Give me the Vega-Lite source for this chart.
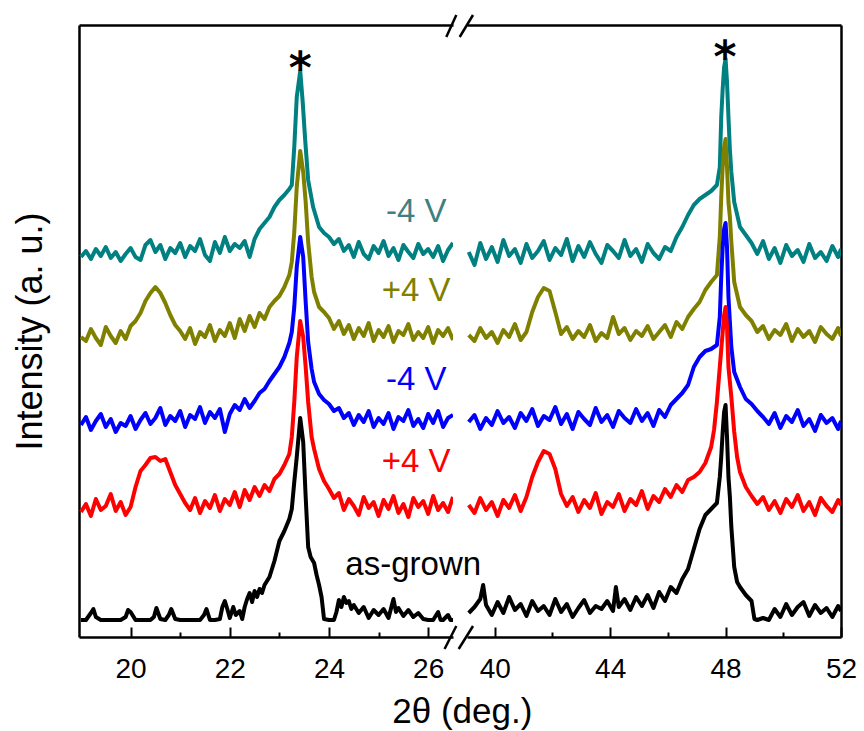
{
"$schema": "https://vega.github.io/schema/vega-lite/v6.json",
"padding": {"left": 12, "top": 13, "right": 15, "bottom": 0},
"config": {
  "view": {"stroke": null},
  "font": "Liberation Sans",
  "axis": {"domainColor": "black", "domainWidth": 2.5, "tickColor": "black", "tickWidth": 2, "labelFont": "Liberation Sans", "labelFontSize": 28, "labelColor": "black", "titleFont": "Liberation Sans", "titleFontSize": 36, "titleFontWeight": "normal", "titleColor": "black", "grid": false},
  "concat": {"spacing": 14}
},
"title": {"text": "2θ (deg.)", "orient": "bottom", "anchor": "middle", "frame": "bounds", "dx": 28, "fontSize": 35, "fontWeight": "normal", "font": "Liberation Sans", "color": "black", "offset": 7},
"bounds": "flush",
"spacing": 14,
"data": {"values": [
{"s":"1","x":19,"y":380},{"s":"1","x":19.1,"y":386},{"s":"1","x":19.2,"y":378},{"s":"1","x":19.3,"y":388},{"s":"1","x":19.4,"y":381},{"s":"1","x":19.5,"y":390},{"s":"1","x":19.6,"y":379},{"s":"1","x":19.7,"y":385},{"s":"1","x":19.8,"y":376},{"s":"1","x":19.9,"y":383},{"s":"1","x":20,"y":389},{"s":"1","x":20.1,"y":380},{"s":"1","x":20.2,"y":377},{"s":"1","x":20.3,"y":392},{"s":"1","x":20.4,"y":397},{"s":"1","x":20.5,"y":385},{"s":"1","x":20.6,"y":392},{"s":"1","x":20.7,"y":378},{"s":"1","x":20.8,"y":389},{"s":"1","x":20.9,"y":384},{"s":"1","x":21,"y":394},{"s":"1","x":21.1,"y":380},{"s":"1","x":21.2,"y":391},{"s":"1","x":21.3,"y":386},{"s":"1","x":21.4,"y":398},{"s":"1","x":21.5,"y":382},{"s":"1","x":21.6,"y":376},{"s":"1","x":21.7,"y":395},{"s":"1","x":21.8,"y":384},{"s":"1","x":21.9,"y":400},{"s":"1","x":22,"y":386},{"s":"1","x":22.1,"y":393},{"s":"1","x":22.2,"y":389},{"s":"1","x":22.3,"y":396},{"s":"1","x":22.4,"y":380},{"s":"1","x":22.5,"y":398},{"s":"1","x":22.6,"y":408},{"s":"1","x":22.7,"y":414},{"s":"1","x":22.8,"y":420},{"s":"1","x":22.9,"y":430},{"s":"1","x":23,"y":437},{"s":"1","x":23.1,"y":442},{"s":"1","x":23.2,"y":448},{"s":"1","x":23.25,"y":452},{"s":"1","x":23.3,"y":490},{"s":"1","x":23.35,"y":540},{"s":"1","x":23.42,"y":566},{"s":"1","x":23.47,"y":535},{"s":"1","x":23.52,"y":497},{"s":"1","x":23.58,"y":457},{"s":"1","x":23.68,"y":430},{"s":"1","x":23.8,"y":410},{"s":"1","x":23.9,"y":404},{"s":"1","x":24,"y":400},{"s":"1","x":24.1,"y":393},{"s":"1","x":24.2,"y":398},{"s":"1","x":24.3,"y":386},{"s":"1","x":24.4,"y":392},{"s":"1","x":24.5,"y":380},{"s":"1","x":24.6,"y":395},{"s":"1","x":24.7,"y":383},{"s":"1","x":24.8,"y":378},{"s":"1","x":24.9,"y":391},{"s":"1","x":25,"y":384},{"s":"1","x":25.1,"y":396},{"s":"1","x":25.2,"y":381},{"s":"1","x":25.3,"y":389},{"s":"1","x":25.4,"y":377},{"s":"1","x":25.5,"y":392},{"s":"1","x":25.6,"y":385},{"s":"1","x":25.7,"y":379},{"s":"1","x":25.8,"y":393},{"s":"1","x":25.9,"y":383},{"s":"1","x":26,"y":388},{"s":"1","x":26.1,"y":380},{"s":"1","x":26.2,"y":391},{"s":"1","x":26.3,"y":376},{"s":"1","x":26.4,"y":387},{"s":"1","x":26.5,"y":394},
{"s":"1","x":39.1,"y":385},{"s":"1","x":39.3,"y":372},{"s":"1","x":39.5,"y":394},{"s":"1","x":39.7,"y":378},{"s":"1","x":39.9,"y":390},{"s":"1","x":40.1,"y":375},{"s":"1","x":40.3,"y":397},{"s":"1","x":40.5,"y":381},{"s":"1","x":40.7,"y":388},{"s":"1","x":40.9,"y":374},{"s":"1","x":41.1,"y":393},{"s":"1","x":41.3,"y":379},{"s":"1","x":41.5,"y":386},{"s":"1","x":41.7,"y":396},{"s":"1","x":41.9,"y":377},{"s":"1","x":42.1,"y":389},{"s":"1","x":42.3,"y":382},{"s":"1","x":42.5,"y":398},{"s":"1","x":42.7,"y":376},{"s":"1","x":42.9,"y":391},{"s":"1","x":43.1,"y":380},{"s":"1","x":43.3,"y":395},{"s":"1","x":43.5,"y":383},{"s":"1","x":43.7,"y":374},{"s":"1","x":43.9,"y":392},{"s":"1","x":44.1,"y":386},{"s":"1","x":44.3,"y":379},{"s":"1","x":44.5,"y":397},{"s":"1","x":44.7,"y":381},{"s":"1","x":44.9,"y":388},{"s":"1","x":45.1,"y":375},{"s":"1","x":45.3,"y":393},{"s":"1","x":45.5,"y":384},{"s":"1","x":45.7,"y":378},{"s":"1","x":45.9,"y":390},{"s":"1","x":46.1,"y":386},{"s":"1","x":46.3,"y":400},{"s":"1","x":46.5,"y":410},{"s":"1","x":46.7,"y":422},{"s":"1","x":46.9,"y":432},{"s":"1","x":47.1,"y":438},{"s":"1","x":47.3,"y":442},{"s":"1","x":47.5,"y":446},{"s":"1","x":47.7,"y":452},{"s":"1","x":47.8,"y":470},{"s":"1","x":47.85,"y":520},{"s":"1","x":47.9,"y":548},{"s":"1","x":47.95,"y":570},{"s":"1","x":48,"y":578},{"s":"1","x":48.05,"y":555},{"s":"1","x":48.1,"y":520},{"s":"1","x":48.15,"y":487},{"s":"1","x":48.2,"y":465},{"s":"1","x":48.3,"y":435},{"s":"1","x":48.5,"y":410},{"s":"1","x":48.7,"y":402},{"s":"1","x":48.9,"y":394},{"s":"1","x":49.1,"y":383},{"s":"1","x":49.3,"y":396},{"s":"1","x":49.5,"y":378},{"s":"1","x":49.7,"y":389},{"s":"1","x":49.9,"y":374},{"s":"1","x":50.1,"y":392},{"s":"1","x":50.3,"y":381},{"s":"1","x":50.5,"y":387},{"s":"1","x":50.7,"y":375},{"s":"1","x":50.9,"y":393},{"s":"1","x":51.1,"y":379},{"s":"1","x":51.3,"y":385},{"s":"1","x":51.5,"y":376},{"s":"1","x":51.7,"y":391},{"s":"1","x":51.9,"y":380},{"s":"1","x":52,"y":388},
{"s":"2","x":19,"y":300},{"s":"2","x":19.1,"y":296},{"s":"2","x":19.2,"y":308},{"s":"2","x":19.3,"y":299},{"s":"2","x":19.4,"y":292},{"s":"2","x":19.5,"y":310},{"s":"2","x":19.6,"y":301},{"s":"2","x":19.7,"y":294},{"s":"2","x":19.8,"y":306},{"s":"2","x":19.9,"y":298},{"s":"2","x":20,"y":311},{"s":"2","x":20.1,"y":316},{"s":"2","x":20.2,"y":324},{"s":"2","x":20.3,"y":336},{"s":"2","x":20.4,"y":344},{"s":"2","x":20.5,"y":350},{"s":"2","x":20.6,"y":344},{"s":"2","x":20.7,"y":334},{"s":"2","x":20.8,"y":322},{"s":"2","x":20.9,"y":312},{"s":"2","x":21,"y":306},{"s":"2","x":21.1,"y":298},{"s":"2","x":21.2,"y":309},{"s":"2","x":21.3,"y":293},{"s":"2","x":21.4,"y":305},{"s":"2","x":21.5,"y":300},{"s":"2","x":21.6,"y":312},{"s":"2","x":21.7,"y":296},{"s":"2","x":21.8,"y":307},{"s":"2","x":21.9,"y":301},{"s":"2","x":22,"y":314},{"s":"2","x":22.1,"y":299},{"s":"2","x":22.2,"y":318},{"s":"2","x":22.3,"y":306},{"s":"2","x":22.4,"y":321},{"s":"2","x":22.5,"y":310},{"s":"2","x":22.6,"y":324},{"s":"2","x":22.7,"y":318},{"s":"2","x":22.8,"y":330},{"s":"2","x":22.9,"y":336},{"s":"2","x":23,"y":341},{"s":"2","x":23.1,"y":350},{"s":"2","x":23.2,"y":362},{"s":"2","x":23.25,"y":375},{"s":"2","x":23.3,"y":405},{"s":"2","x":23.35,"y":450},{"s":"2","x":23.42,"y":486},{"s":"2","x":23.48,"y":465},{"s":"2","x":23.53,"y":435},{"s":"2","x":23.58,"y":395},{"s":"2","x":23.65,"y":360},{"s":"2","x":23.7,"y":345},{"s":"2","x":23.8,"y":330},{"s":"2","x":23.9,"y":325},{"s":"2","x":24,"y":319},{"s":"2","x":24.1,"y":308},{"s":"2","x":24.2,"y":316},{"s":"2","x":24.3,"y":303},{"s":"2","x":24.4,"y":312},{"s":"2","x":24.5,"y":298},{"s":"2","x":24.6,"y":309},{"s":"2","x":24.7,"y":301},{"s":"2","x":24.8,"y":314},{"s":"2","x":24.9,"y":296},{"s":"2","x":25,"y":307},{"s":"2","x":25.1,"y":300},{"s":"2","x":25.2,"y":311},{"s":"2","x":25.3,"y":295},{"s":"2","x":25.4,"y":306},{"s":"2","x":25.5,"y":302},{"s":"2","x":25.6,"y":313},{"s":"2","x":25.7,"y":297},{"s":"2","x":25.8,"y":305},{"s":"2","x":25.9,"y":299},{"s":"2","x":26,"y":310},{"s":"2","x":26.1,"y":294},{"s":"2","x":26.2,"y":307},{"s":"2","x":26.3,"y":301},{"s":"2","x":26.4,"y":309},{"s":"2","x":26.5,"y":297},
{"s":"2","x":39.1,"y":302},{"s":"2","x":39.3,"y":296},{"s":"2","x":39.5,"y":309},{"s":"2","x":39.7,"y":299},{"s":"2","x":39.9,"y":305},{"s":"2","x":40.1,"y":294},{"s":"2","x":40.3,"y":307},{"s":"2","x":40.5,"y":300},{"s":"2","x":40.7,"y":313},{"s":"2","x":40.9,"y":297},{"s":"2","x":41.1,"y":305},{"s":"2","x":41.3,"y":325},{"s":"2","x":41.5,"y":340},{"s":"2","x":41.7,"y":349},{"s":"2","x":41.9,"y":346},{"s":"2","x":42.1,"y":325},{"s":"2","x":42.3,"y":303},{"s":"2","x":42.5,"y":310},{"s":"2","x":42.7,"y":298},{"s":"2","x":42.9,"y":306},{"s":"2","x":43.1,"y":300},{"s":"2","x":43.3,"y":312},{"s":"2","x":43.5,"y":296},{"s":"2","x":43.7,"y":304},{"s":"2","x":43.9,"y":299},{"s":"2","x":44.1,"y":320},{"s":"2","x":44.3,"y":303},{"s":"2","x":44.5,"y":309},{"s":"2","x":44.7,"y":297},{"s":"2","x":44.9,"y":306},{"s":"2","x":45.1,"y":301},{"s":"2","x":45.3,"y":311},{"s":"2","x":45.5,"y":298},{"s":"2","x":45.7,"y":305},{"s":"2","x":45.9,"y":312},{"s":"2","x":46.1,"y":300},{"s":"2","x":46.3,"y":315},{"s":"2","x":46.5,"y":308},{"s":"2","x":46.7,"y":320},{"s":"2","x":46.9,"y":328},{"s":"2","x":47.1,"y":335},{"s":"2","x":47.3,"y":347},{"s":"2","x":47.5,"y":355},{"s":"2","x":47.7,"y":362},{"s":"2","x":47.8,"y":400},{"s":"2","x":47.85,"y":440},{"s":"2","x":47.9,"y":470},{"s":"2","x":47.95,"y":490},{"s":"2","x":48,"y":498},{"s":"2","x":48.05,"y":470},{"s":"2","x":48.1,"y":435},{"s":"2","x":48.15,"y":420},{"s":"2","x":48.2,"y":395},{"s":"2","x":48.3,"y":355},{"s":"2","x":48.5,"y":330},{"s":"2","x":48.7,"y":322},{"s":"2","x":48.9,"y":316},{"s":"2","x":49.1,"y":305},{"s":"2","x":49.3,"y":311},{"s":"2","x":49.5,"y":298},{"s":"2","x":49.7,"y":307},{"s":"2","x":49.9,"y":302},{"s":"2","x":50.1,"y":313},{"s":"2","x":50.3,"y":296},{"s":"2","x":50.5,"y":308},{"s":"2","x":50.7,"y":300},{"s":"2","x":50.9,"y":306},{"s":"2","x":51.1,"y":295},{"s":"2","x":51.3,"y":310},{"s":"2","x":51.5,"y":303},{"s":"2","x":51.7,"y":298},{"s":"2","x":51.9,"y":309},{"s":"2","x":52,"y":301},
{"s":"3","x":19,"y":212},{"s":"3","x":19.1,"y":220},{"s":"3","x":19.2,"y":207},{"s":"3","x":19.3,"y":216},{"s":"3","x":19.4,"y":223},{"s":"3","x":19.5,"y":210},{"s":"3","x":19.6,"y":218},{"s":"3","x":19.7,"y":205},{"s":"3","x":19.8,"y":214},{"s":"3","x":19.9,"y":211},{"s":"3","x":20,"y":221},{"s":"3","x":20.1,"y":208},{"s":"3","x":20.2,"y":217},{"s":"3","x":20.3,"y":224},{"s":"3","x":20.4,"y":213},{"s":"3","x":20.5,"y":219},{"s":"3","x":20.6,"y":229},{"s":"3","x":20.7,"y":212},{"s":"3","x":20.8,"y":221},{"s":"3","x":20.9,"y":216},{"s":"3","x":21,"y":226},{"s":"3","x":21.1,"y":210},{"s":"3","x":21.2,"y":222},{"s":"3","x":21.3,"y":218},{"s":"3","x":21.4,"y":230},{"s":"3","x":21.5,"y":214},{"s":"3","x":21.6,"y":225},{"s":"3","x":21.7,"y":219},{"s":"3","x":21.8,"y":228},{"s":"3","x":21.9,"y":205},{"s":"3","x":22,"y":223},{"s":"3","x":22.1,"y":232},{"s":"3","x":22.2,"y":227},{"s":"3","x":22.3,"y":238},{"s":"3","x":22.4,"y":229},{"s":"3","x":22.5,"y":236},{"s":"3","x":22.6,"y":244},{"s":"3","x":22.7,"y":248},{"s":"3","x":22.8,"y":256},{"s":"3","x":22.9,"y":263},{"s":"3","x":23,"y":270},{"s":"3","x":23.1,"y":280},{"s":"3","x":23.2,"y":294},{"s":"3","x":23.25,"y":305},{"s":"3","x":23.3,"y":330},{"s":"3","x":23.35,"y":370},{"s":"3","x":23.42,"y":400},{"s":"3","x":23.48,"y":380},{"s":"3","x":23.53,"y":335},{"s":"3","x":23.58,"y":295},{"s":"3","x":23.65,"y":268},{"s":"3","x":23.7,"y":255},{"s":"3","x":23.8,"y":243},{"s":"3","x":23.9,"y":237},{"s":"3","x":24,"y":233},{"s":"3","x":24.1,"y":226},{"s":"3","x":24.2,"y":229},{"s":"3","x":24.3,"y":219},{"s":"3","x":24.4,"y":224},{"s":"3","x":24.5,"y":212},{"s":"3","x":24.6,"y":222},{"s":"3","x":24.7,"y":215},{"s":"3","x":24.8,"y":226},{"s":"3","x":24.9,"y":210},{"s":"3","x":25,"y":219},{"s":"3","x":25.1,"y":213},{"s":"3","x":25.2,"y":224},{"s":"3","x":25.3,"y":208},{"s":"3","x":25.4,"y":220},{"s":"3","x":25.5,"y":216},{"s":"3","x":25.6,"y":227},{"s":"3","x":25.7,"y":211},{"s":"3","x":25.8,"y":218},{"s":"3","x":25.9,"y":209},{"s":"3","x":26,"y":223},{"s":"3","x":26.1,"y":214},{"s":"3","x":26.2,"y":226},{"s":"3","x":26.3,"y":210},{"s":"3","x":26.4,"y":219},{"s":"3","x":26.5,"y":222},
{"s":"3","x":39.1,"y":215},{"s":"3","x":39.3,"y":222},{"s":"3","x":39.5,"y":208},{"s":"3","x":39.7,"y":219},{"s":"3","x":39.9,"y":212},{"s":"3","x":40.1,"y":226},{"s":"3","x":40.3,"y":214},{"s":"3","x":40.5,"y":220},{"s":"3","x":40.7,"y":209},{"s":"3","x":40.9,"y":224},{"s":"3","x":41.1,"y":216},{"s":"3","x":41.3,"y":228},{"s":"3","x":41.5,"y":211},{"s":"3","x":41.7,"y":221},{"s":"3","x":41.9,"y":217},{"s":"3","x":42.1,"y":230},{"s":"3","x":42.3,"y":213},{"s":"3","x":42.5,"y":223},{"s":"3","x":42.7,"y":208},{"s":"3","x":42.9,"y":225},{"s":"3","x":43.1,"y":218},{"s":"3","x":43.3,"y":212},{"s":"3","x":43.5,"y":229},{"s":"3","x":43.7,"y":215},{"s":"3","x":43.9,"y":222},{"s":"3","x":44.1,"y":210},{"s":"3","x":44.3,"y":226},{"s":"3","x":44.5,"y":219},{"s":"3","x":44.7,"y":214},{"s":"3","x":44.9,"y":228},{"s":"3","x":45.1,"y":216},{"s":"3","x":45.3,"y":224},{"s":"3","x":45.5,"y":211},{"s":"3","x":45.7,"y":227},{"s":"3","x":45.9,"y":220},{"s":"3","x":46.1,"y":232},{"s":"3","x":46.3,"y":238},{"s":"3","x":46.5,"y":244},{"s":"3","x":46.7,"y":252},{"s":"3","x":46.9,"y":270},{"s":"3","x":47.1,"y":280},{"s":"3","x":47.3,"y":286},{"s":"3","x":47.5,"y":288},{"s":"3","x":47.7,"y":292},{"s":"3","x":47.8,"y":320},{"s":"3","x":47.85,"y":360},{"s":"3","x":47.9,"y":390},{"s":"3","x":47.95,"y":408},{"s":"3","x":48,"y":414},{"s":"3","x":48.05,"y":390},{"s":"3","x":48.1,"y":340},{"s":"3","x":48.2,"y":290},{"s":"3","x":48.3,"y":265},{"s":"3","x":48.5,"y":250},{"s":"3","x":48.7,"y":238},{"s":"3","x":48.9,"y":233},{"s":"3","x":49.1,"y":226},{"s":"3","x":49.3,"y":220},{"s":"3","x":49.5,"y":213},{"s":"3","x":49.7,"y":224},{"s":"3","x":49.9,"y":209},{"s":"3","x":50.1,"y":221},{"s":"3","x":50.3,"y":215},{"s":"3","x":50.5,"y":227},{"s":"3","x":50.7,"y":211},{"s":"3","x":50.9,"y":218},{"s":"3","x":51.1,"y":206},{"s":"3","x":51.3,"y":222},{"s":"3","x":51.5,"y":214},{"s":"3","x":51.7,"y":219},{"s":"3","x":51.9,"y":208},{"s":"3","x":52,"y":216},
{"s":"4","x":19,"y":125},{"s":"4","x":19.1,"y":133},{"s":"4","x":19.2,"y":121},{"s":"4","x":19.3,"y":138},{"s":"4","x":19.4,"y":127},{"s":"4","x":19.5,"y":131},{"s":"4","x":19.6,"y":143},{"s":"4","x":19.7,"y":126},{"s":"4","x":19.8,"y":135},{"s":"4","x":19.9,"y":122},{"s":"4","x":20,"y":130},{"s":"4","x":20.1,"y":150},{"s":"4","x":20.2,"y":166},{"s":"4","x":20.3,"y":172},{"s":"4","x":20.4,"y":179},{"s":"4","x":20.5,"y":180},{"s":"4","x":20.6,"y":176},{"s":"4","x":20.7,"y":178},{"s":"4","x":20.8,"y":165},{"s":"4","x":20.9,"y":152},{"s":"4","x":21,"y":143},{"s":"4","x":21.1,"y":134},{"s":"4","x":21.2,"y":127},{"s":"4","x":21.3,"y":139},{"s":"4","x":21.4,"y":124},{"s":"4","x":21.5,"y":136},{"s":"4","x":21.6,"y":129},{"s":"4","x":21.7,"y":142},{"s":"4","x":21.8,"y":126},{"s":"4","x":21.9,"y":138},{"s":"4","x":22,"y":132},{"s":"4","x":22.1,"y":145},{"s":"4","x":22.2,"y":130},{"s":"4","x":22.3,"y":147},{"s":"4","x":22.4,"y":137},{"s":"4","x":22.5,"y":150},{"s":"4","x":22.6,"y":141},{"s":"4","x":22.7,"y":152},{"s":"4","x":22.8,"y":146},{"s":"4","x":22.9,"y":158},{"s":"4","x":23,"y":163},{"s":"4","x":23.1,"y":172},{"s":"4","x":23.2,"y":183},{"s":"4","x":23.25,"y":200},{"s":"4","x":23.3,"y":235},{"s":"4","x":23.35,"y":280},{"s":"4","x":23.42,"y":316},{"s":"4","x":23.48,"y":300},{"s":"4","x":23.53,"y":270},{"s":"4","x":23.58,"y":235},{"s":"4","x":23.65,"y":200},{"s":"4","x":23.7,"y":188},{"s":"4","x":23.8,"y":168},{"s":"4","x":23.9,"y":156},{"s":"4","x":24,"y":148},{"s":"4","x":24.1,"y":139},{"s":"4","x":24.2,"y":144},{"s":"4","x":24.3,"y":127},{"s":"4","x":24.4,"y":138},{"s":"4","x":24.5,"y":131},{"s":"4","x":24.6,"y":122},{"s":"4","x":24.7,"y":140},{"s":"4","x":24.8,"y":129},{"s":"4","x":24.9,"y":135},{"s":"4","x":25,"y":121},{"s":"4","x":25.1,"y":137},{"s":"4","x":25.2,"y":128},{"s":"4","x":25.3,"y":141},{"s":"4","x":25.4,"y":124},{"s":"4","x":25.5,"y":133},{"s":"4","x":25.6,"y":120},{"s":"4","x":25.7,"y":139},{"s":"4","x":25.8,"y":130},{"s":"4","x":25.9,"y":136},{"s":"4","x":26,"y":123},{"s":"4","x":26.1,"y":141},{"s":"4","x":26.2,"y":127},{"s":"4","x":26.3,"y":134},{"s":"4","x":26.4,"y":125},{"s":"4","x":26.5,"y":140},
{"s":"4","x":39.1,"y":132},{"s":"4","x":39.3,"y":124},{"s":"4","x":39.5,"y":139},{"s":"4","x":39.7,"y":127},{"s":"4","x":39.9,"y":135},{"s":"4","x":40.1,"y":121},{"s":"4","x":40.3,"y":137},{"s":"4","x":40.5,"y":129},{"s":"4","x":40.7,"y":142},{"s":"4","x":40.9,"y":126},{"s":"4","x":41.1,"y":140},{"s":"4","x":41.3,"y":160},{"s":"4","x":41.5,"y":175},{"s":"4","x":41.7,"y":186},{"s":"4","x":41.9,"y":183},{"s":"4","x":42.1,"y":168},{"s":"4","x":42.3,"y":143},{"s":"4","x":42.5,"y":131},{"s":"4","x":42.7,"y":140},{"s":"4","x":42.9,"y":125},{"s":"4","x":43.1,"y":137},{"s":"4","x":43.3,"y":129},{"s":"4","x":43.5,"y":144},{"s":"4","x":43.7,"y":123},{"s":"4","x":43.9,"y":135},{"s":"4","x":44.1,"y":130},{"s":"4","x":44.3,"y":143},{"s":"4","x":44.5,"y":126},{"s":"4","x":44.7,"y":138},{"s":"4","x":44.9,"y":132},{"s":"4","x":45.1,"y":146},{"s":"4","x":45.3,"y":128},{"s":"4","x":45.5,"y":141},{"s":"4","x":45.7,"y":135},{"s":"4","x":45.9,"y":148},{"s":"4","x":46.1,"y":140},{"s":"4","x":46.3,"y":152},{"s":"4","x":46.5,"y":145},{"s":"4","x":46.7,"y":157},{"s":"4","x":46.9,"y":160},{"s":"4","x":47.1,"y":165},{"s":"4","x":47.3,"y":174},{"s":"4","x":47.5,"y":190},{"s":"4","x":47.6,"y":207},{"s":"4","x":47.7,"y":235},{"s":"4","x":47.8,"y":270},{"s":"4","x":47.9,"y":305},{"s":"4","x":47.95,"y":322},{"s":"4","x":48,"y":330},{"s":"4","x":48.05,"y":310},{"s":"4","x":48.1,"y":270},{"s":"4","x":48.2,"y":240},{"s":"4","x":48.3,"y":205},{"s":"4","x":48.4,"y":180},{"s":"4","x":48.5,"y":165},{"s":"4","x":48.7,"y":150},{"s":"4","x":48.9,"y":141},{"s":"4","x":49.1,"y":133},{"s":"4","x":49.3,"y":140},{"s":"4","x":49.5,"y":127},{"s":"4","x":49.7,"y":136},{"s":"4","x":49.9,"y":124},{"s":"4","x":50.1,"y":138},{"s":"4","x":50.3,"y":130},{"s":"4","x":50.5,"y":142},{"s":"4","x":50.7,"y":126},{"s":"4","x":50.9,"y":135},{"s":"4","x":51.1,"y":122},{"s":"4","x":51.3,"y":139},{"s":"4","x":51.5,"y":131},{"s":"4","x":51.7,"y":125},{"s":"4","x":51.9,"y":137},{"s":"4","x":52,"y":132},
{"s":"5","x":19,"y":17},{"s":"5","x":19.1,"y":17},{"s":"5","x":19.2,"y":24},{"s":"5","x":19.25,"y":28},{"s":"5","x":19.3,"y":20},{"s":"5","x":19.4,"y":17},{"s":"5","x":19.5,"y":17},{"s":"5","x":19.6,"y":17},{"s":"5","x":19.7,"y":17},{"s":"5","x":19.8,"y":17},{"s":"5","x":19.9,"y":20},{"s":"5","x":19.95,"y":27},{"s":"5","x":20,"y":25},{"s":"5","x":20.1,"y":17},{"s":"5","x":20.2,"y":17},{"s":"5","x":20.3,"y":17},{"s":"5","x":20.4,"y":17},{"s":"5","x":20.47,"y":20},{"s":"5","x":20.52,"y":29},{"s":"5","x":20.6,"y":18},{"s":"5","x":20.7,"y":17},{"s":"5","x":20.77,"y":22},{"s":"5","x":20.82,"y":28},{"s":"5","x":20.9,"y":18},{"s":"5","x":21,"y":17},{"s":"5","x":21.1,"y":17},{"s":"5","x":21.2,"y":17},{"s":"5","x":21.3,"y":17},{"s":"5","x":21.4,"y":17},{"s":"5","x":21.48,"y":22},{"s":"5","x":21.53,"y":28},{"s":"5","x":21.6,"y":17},{"s":"5","x":21.7,"y":17},{"s":"5","x":21.8,"y":18},{"s":"5","x":21.85,"y":30},{"s":"5","x":21.9,"y":36},{"s":"5","x":21.95,"y":28},{"s":"5","x":22,"y":19},{"s":"5","x":22.07,"y":30},{"s":"5","x":22.12,"y":22},{"s":"5","x":22.2,"y":26},{"s":"5","x":22.25,"y":18},{"s":"5","x":22.3,"y":30},{"s":"5","x":22.35,"y":38},{"s":"5","x":22.4,"y":44},{"s":"5","x":22.45,"y":35},{"s":"5","x":22.5,"y":46},{"s":"5","x":22.55,"y":40},{"s":"5","x":22.6,"y":48},{"s":"5","x":22.65,"y":44},{"s":"5","x":22.7,"y":52},{"s":"5","x":22.8,"y":60},{"s":"5","x":22.9,"y":76},{"s":"5","x":23,"y":96},{"s":"5","x":23.1,"y":106},{"s":"5","x":23.2,"y":118},{"s":"5","x":23.25,"y":128},{"s":"5","x":23.3,"y":155},{"s":"5","x":23.35,"y":180},{"s":"5","x":23.42,"y":219},{"s":"5","x":23.48,"y":195},{"s":"5","x":23.53,"y":140},{"s":"5","x":23.58,"y":90},{"s":"5","x":23.63,"y":80},{"s":"5","x":23.7,"y":74},{"s":"5","x":23.75,"y":62},{"s":"5","x":23.8,"y":52},{"s":"5","x":23.85,"y":40},{"s":"5","x":23.9,"y":18},{"s":"5","x":24,"y":17},{"s":"5","x":24.1,"y":17},{"s":"5","x":24.15,"y":25},{"s":"5","x":24.2,"y":37},{"s":"5","x":24.25,"y":30},{"s":"5","x":24.3,"y":40},{"s":"5","x":24.35,"y":34},{"s":"5","x":24.4,"y":36},{"s":"5","x":24.45,"y":28},{"s":"5","x":24.5,"y":32},{"s":"5","x":24.6,"y":24},{"s":"5","x":24.7,"y":30},{"s":"5","x":24.8,"y":19},{"s":"5","x":24.9,"y":27},{"s":"5","x":25,"y":22},{"s":"5","x":25.1,"y":28},{"s":"5","x":25.2,"y":19},{"s":"5","x":25.3,"y":38},{"s":"5","x":25.35,"y":25},{"s":"5","x":25.4,"y":29},{"s":"5","x":25.5,"y":21},{"s":"5","x":25.6,"y":27},{"s":"5","x":25.7,"y":20},{"s":"5","x":25.8,"y":24},{"s":"5","x":25.9,"y":18},{"s":"5","x":26,"y":17},{"s":"5","x":26.1,"y":17},{"s":"5","x":26.2,"y":25},{"s":"5","x":26.25,"y":17},{"s":"5","x":26.3,"y":17},{"s":"5","x":26.4,"y":22},{"s":"5","x":26.45,"y":17},{"s":"5","x":26.5,"y":17},
{"s":"5","x":39.1,"y":24},{"s":"5","x":39.3,"y":30},{"s":"5","x":39.5,"y":38},{"s":"5","x":39.6,"y":52},{"s":"5","x":39.7,"y":32},{"s":"5","x":39.9,"y":22},{"s":"5","x":40.1,"y":35},{"s":"5","x":40.3,"y":24},{"s":"5","x":40.5,"y":40},{"s":"5","x":40.7,"y":27},{"s":"5","x":40.9,"y":33},{"s":"5","x":41.1,"y":21},{"s":"5","x":41.3,"y":36},{"s":"5","x":41.5,"y":26},{"s":"5","x":41.7,"y":31},{"s":"5","x":41.9,"y":22},{"s":"5","x":42.1,"y":38},{"s":"5","x":42.3,"y":25},{"s":"5","x":42.5,"y":33},{"s":"5","x":42.7,"y":20},{"s":"5","x":42.9,"y":29},{"s":"5","x":43.1,"y":37},{"s":"5","x":43.3,"y":24},{"s":"5","x":43.5,"y":31},{"s":"5","x":43.7,"y":28},{"s":"5","x":43.9,"y":36},{"s":"5","x":44.1,"y":26},{"s":"5","x":44.2,"y":50},{"s":"5","x":44.3,"y":30},{"s":"5","x":44.5,"y":38},{"s":"5","x":44.7,"y":27},{"s":"5","x":44.9,"y":40},{"s":"5","x":45.1,"y":31},{"s":"5","x":45.3,"y":42},{"s":"5","x":45.5,"y":29},{"s":"5","x":45.7,"y":45},{"s":"5","x":45.9,"y":36},{"s":"5","x":46.1,"y":50},{"s":"5","x":46.3,"y":44},{"s":"5","x":46.5,"y":58},{"s":"5","x":46.7,"y":68},{"s":"5","x":46.9,"y":88},{"s":"5","x":47.1,"y":108},{"s":"5","x":47.3,"y":122},{"s":"5","x":47.5,"y":128},{"s":"5","x":47.7,"y":134},{"s":"5","x":47.8,"y":160},{"s":"5","x":47.85,"y":180},{"s":"5","x":47.9,"y":205},{"s":"5","x":47.95,"y":225},{"s":"5","x":48,"y":232},{"s":"5","x":48.05,"y":200},{"s":"5","x":48.1,"y":160},{"s":"5","x":48.15,"y":140},{"s":"5","x":48.2,"y":110},{"s":"5","x":48.3,"y":70},{"s":"5","x":48.4,"y":55},{"s":"5","x":48.5,"y":50},{"s":"5","x":48.7,"y":42},{"s":"5","x":48.9,"y":36},{"s":"5","x":49,"y":18},{"s":"5","x":49.1,"y":17},{"s":"5","x":49.3,"y":19},{"s":"5","x":49.5,"y":17},{"s":"5","x":49.7,"y":28},{"s":"5","x":49.9,"y":20},{"s":"5","x":50.1,"y":33},{"s":"5","x":50.3,"y":22},{"s":"5","x":50.5,"y":30},{"s":"5","x":50.7,"y":35},{"s":"5","x":50.9,"y":21},{"s":"5","x":51.1,"y":32},{"s":"5","x":51.3,"y":24},{"s":"5","x":51.5,"y":29},{"s":"5","x":51.7,"y":20},{"s":"5","x":51.9,"y":31},{"s":"5","x":52,"y":26}
]},
"hconcat": [
{
  "width": 374, "height": 612,
  "layer": [
    {
      "transform": [{"filter": "datum.x < 30"}],
      "mark": {"type": "line", "clip": true, "strokeJoin": "round"},
      "encoding": {
        "x": {"field": "x", "type": "quantitative", "scale": {"domain": [18.96, 26.5], "nice": false, "zero": false},
          "axis": {"orient": "bottom", "values": [20, 21, 22, 23, 24, 25, 26], "labelExpr": "datum.value % 2 === 0 ? datum.label : ''", "tickSize": {"condition": {"test": "datum.value % 2 === 1", "value": -5}, "value": -10}, "labelPadding": 28, "labelFlush": false, "labelOverlap": false, "title": null}},
        "y": {"field": "y", "type": "quantitative", "scale": {"domain": [0, 612], "nice": false, "zero": false},
          "axis": {"orient": "left", "ticks": false, "labels": false, "title": "Intensity (a. u.)", "titlePadding": 30}},
        "color": {"field": "s", "type": "nominal", "scale": {"domain": ["1", "2", "3", "4", "5"], "range": ["#008080", "#808000", "#0000FF", "#FF0000", "#000000"]}, "legend": null},
        "strokeWidth": {"field": "s", "type": "nominal", "scale": {"domain": ["1", "2", "3", "4", "5"], "range": [4, 4, 4, 4, 3.2]}, "legend": null}
      }
    },
    {
      "data": {"values": [{"s": "1", "label": "-4 V", "x": 26.37, "y": 415}, {"s": "2", "label": "+4 V", "x": 26.45, "y": 336}, {"s": "3", "label": "-4 V", "x": 26.37, "y": 247}, {"s": "4", "label": "+4 V", "x": 26.45, "y": 165}]},
      "mark": {"type": "text", "align": "right", "baseline": "alphabetic", "fontSize": 33, "font": "Liberation Sans"},
      "encoding": {
        "x": {"field": "x", "type": "quantitative", "axis": null},
        "y": {"field": "y", "type": "quantitative", "axis": null},
        "text": {"field": "label"},
        "color": {"field": "s", "type": "nominal", "scale": {"domain": ["1", "2", "3", "4"], "range": ["#408080", "#808000", "#0000FF", "#FF0000"]}, "legend": null}
      }
    },
    {
      "data": {"values": [{"label": "as-grown", "x": 24.33, "y": 62}]},
      "mark": {"type": "text", "align": "left", "baseline": "alphabetic", "fontSize": 33, "font": "Liberation Sans", "color": "black"},
      "encoding": {
        "x": {"field": "x", "type": "quantitative", "axis": null},
        "y": {"field": "y", "type": "quantitative", "axis": null},
        "text": {"field": "label"}
      }
    },
    {
      "data": {"values": [{}]},
      "mark": {"type": "text", "text": "*", "font": "DejaVu Sans", "fontWeight": "bold", "fontSize": 44, "align": "center", "baseline": "alphabetic", "color": "black"},
      "encoding": {
        "x": {"datum": 23.42, "type": "quantitative", "axis": {"orient": "top", "ticks": false, "labels": false, "title": null, "domain": true}},
        "y": {"datum": 554, "type": "quantitative", "axis": null}
      }
    },
    {
      "data": {"values": [{}]},
      "mark": {"type": "rule", "strokeWidth": 2.5, "color": "black"},
      "encoding": {
        "x": {"datum": 26.365, "type": "quantitative", "axis": null}, "x2": {"datum": 26.567},
        "y": {"datum": 600, "type": "quantitative", "axis": null}, "y2": {"datum": 622}
      }
    },
    {
      "data": {"values": [{}]},
      "mark": {"type": "rule", "strokeWidth": 2.5, "color": "black"},
      "encoding": {
        "x": {"datum": 26.33, "type": "quantitative", "axis": null}, "x2": {"datum": 26.567},
        "y": {"datum": -12, "type": "quantitative", "axis": null}, "y2": {"datum": 11}
      }
    }
  ],
  "resolve": {"axis": {"x": "independent", "y": "independent"}, "scale": {"color": "independent"}}
},
{
  "width": 374, "height": 612,
  "layer": [
    {
      "transform": [{"filter": "datum.x > 30"}],
      "mark": {"type": "line", "clip": true, "strokeJoin": "round"},
      "encoding": {
        "x": {"field": "x", "type": "quantitative", "scale": {"domain": [39.04, 52], "nice": false, "zero": false},
          "axis": {"orient": "bottom", "values": [40, 42, 44, 46, 48, 50, 52], "labelExpr": "datum.value % 4 === 0 ? datum.label : ''", "tickSize": {"condition": {"test": "datum.value % 4 === 2", "value": -5}, "value": -10}, "labelPadding": 28, "labelFlush": false, "labelOverlap": false, "title": null}},
        "y": {"field": "y", "type": "quantitative", "scale": {"domain": [0, 612], "nice": false, "zero": false},
          "axis": {"orient": "right", "ticks": false, "labels": false, "title": null}},
        "color": {"field": "s", "type": "nominal", "scale": {"domain": ["1", "2", "3", "4", "5"], "range": ["#008080", "#808000", "#0000FF", "#FF0000", "#000000"]}, "legend": null},
        "strokeWidth": {"field": "s", "type": "nominal", "scale": {"domain": ["1", "2", "3", "4", "5"], "range": [4, 4, 4, 4, 3.2]}, "legend": null}
      }
    },
    {
      "data": {"values": [{}]},
      "mark": {"type": "text", "text": "*", "font": "DejaVu Sans", "fontWeight": "bold", "fontSize": 44, "align": "center", "baseline": "alphabetic", "color": "black"},
      "encoding": {
        "x": {"datum": 47.98, "type": "quantitative", "axis": {"orient": "top", "ticks": false, "labels": false, "title": null, "domain": true}},
        "y": {"datum": 565, "type": "quantitative", "axis": null}
      }
    },
    {
      "data": {"values": [{}]},
      "mark": {"type": "rule", "strokeWidth": 2.5, "color": "black"},
      "encoding": {
        "x": {"datum": 38.787, "type": "quantitative", "axis": null}, "x2": {"datum": 39.248},
        "y": {"datum": 600, "type": "quantitative", "axis": null}, "y2": {"datum": 622}
      }
    },
    {
      "data": {"values": [{}]},
      "mark": {"type": "rule", "strokeWidth": 2.5, "color": "black"},
      "encoding": {
        "x": {"datum": 38.752, "type": "quantitative", "axis": null}, "x2": {"datum": 39.248},
        "y": {"datum": -12, "type": "quantitative", "axis": null}, "y2": {"datum": 11}
      }
    }
  ],
  "resolve": {"axis": {"x": "independent", "y": "independent"}}
}
]
}
